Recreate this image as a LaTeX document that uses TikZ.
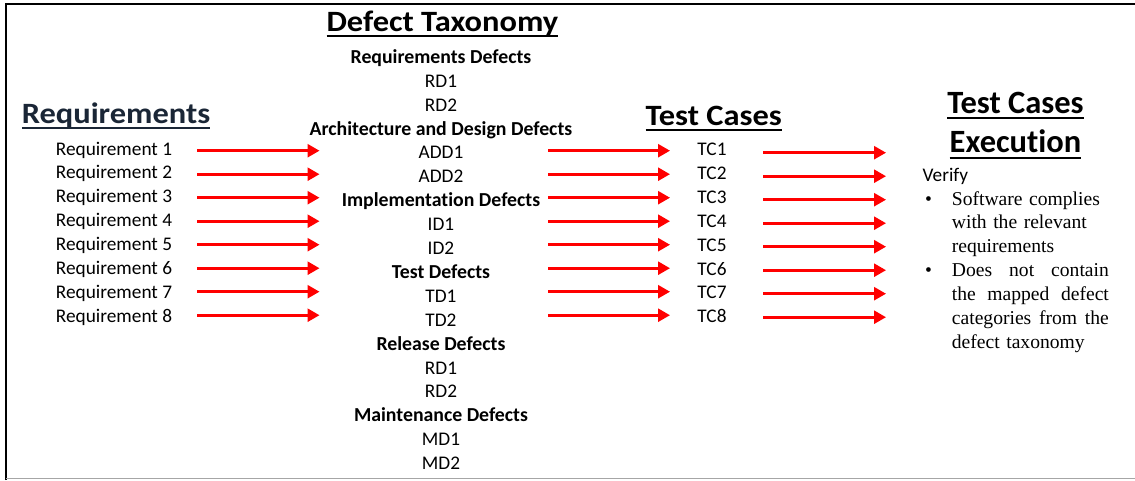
\documentclass[tikz,border=0pt]{standalone}
\usepackage{fontspec}
\setmainfont{Carlito}[Ligatures=NoCommon]
\newfontfamily\timesfont{Liberation Serif}
\newfontfamily\widefont{Carlito}[FakeStretch=1.1,Ligatures=NoCommon]
\usetikzlibrary{arrows.meta}

% underline at a fixed depth, crossing the descenders
\newcommand{\headul}[1]{\setbox0=\hbox{#1}\rlap{\rule[-6pt]{\wd0}{2pt}}\box0}
% a line spread to the full column width
\newcommand{\fullline}[1]{\leavevmode\hbox to 157pt{#1}}

\tikzset{
  item/.style={font=\fontsize{19.3}{23}\selectfont, anchor=base, inner sep=0pt},
  group/.style={font=\bfseries\fontsize{19.8}{24}\selectfont, anchor=base, inner sep=0pt},
  heading/.style={font=\widefont\bfseries\fontsize{29.5}{33}\selectfont, anchor=base, inner sep=0pt},
  bigheading/.style={font=\bfseries\fontsize{32.5}{36}\selectfont, anchor=base, inner sep=0pt},
  listtext/.style={font=\timesfont\fontsize{19.6}{23.8}\selectfont, anchor=base west, inner sep=0pt, text width=180pt, align=left},
  redarrow/.style={draw=red, line width=2.6pt, -{Triangle[length=12pt,width=13pt]}}
}

\begin{document}
\begin{tikzpicture}[x=1pt,y=-1pt]
  \definecolor{reqhead}{RGB}{26,38,54}
  \useasboundingbox (0,0) rectangle (1135,480);

  % frame
  \draw[line width=2pt] (6,480) -- (6,4.3) -- (1135,4.3);
  \draw[black!35, line width=1.5pt] (6,478.5) -- (1135,478.5);

  % headings
  \node[heading, text=reqhead] (reqhead) at (116,123.3) {\headul{Requirements}};
  \node[heading] (taxhead) at (442.4,31) {\headul{Defect Taxonomy}};
  \node[heading] (tchead) at (713.7,125) {\headul{Test Cases}};
  \node[bigheading] (exechead1) at (1015.5,113.3) {\headul{Test Cases}};
  \node[bigheading] (exechead2) at (1015.5,152.7) {\headul{Execution}};

  % requirements and test cases
  \foreach \i in {1,...,8}
  {
    \node[item] (req\i) at (114,131.1+23.9*\i) {Requirement \i};
    \node[item] (tc\i) at (712,131.6+23.9*\i) {TC\i};
  }

  % defect taxonomy
  \foreach \lbl/\kind [count=\k from 0] in {Requirements Defects/group,RD1/item,RD2/item,
      Architecture and Design Defects/group,ADD1/item,ADD2/item,
      Implementation Defects/group,ID1/item,ID2/item,
      Test Defects/group,TD1/item,TD2/item,
      Release Defects/group,RD1/item,RD2/item,
      Maintenance Defects/group,MD1/item,MD2/item}
  {
    \node[\kind] (tax\k) at (441,63.3+23.9*\k) {\lbl};
  }

  % arrows
  \foreach \i in {1,...,8}
  {
    \coordinate (a\i) at (197.3,127.2+23.5*\i);
    \coordinate (b\i) at (319.5,127.2+23.5*\i);
    \coordinate (c\i) at (548.3,127.2+23.5*\i);
    \coordinate (d\i) at (670,127.2+23.5*\i);
    \coordinate (e\i) at (763.3,129.2+23.5*\i);
    \coordinate (f\i) at (886,129.2+23.5*\i);
    \draw[redarrow] (a\i) -- (b\i);
    \draw[redarrow] (c\i) -- (d\i);
    \draw[redarrow] (e\i) -- (f\i);
  }

  % execution text
  \node[item, anchor=base west] (verify) at (922.5,181.7) {Verify};
  \node[listtext, text width=12pt, align=center, anchor=base] (dot1) at (928.5,205) {\textbullet};
  \node[listtext] (item1) at (951.7,205) {Software complies\\with the relevant\\requirements};
  \node[listtext, text width=12pt, align=center, anchor=base] (dot2) at (928.5,276.7) {\textbullet};
  \node[listtext] (item2) at (951.7,276.7) {\fullline{Does\hfill not\hfill contain}\\\fullline{the\hfill mapped\hfill defect}\\\fullline{categories\hfill from\hfill the}\\defect taxonomy};
\end{tikzpicture}
\end{document}
